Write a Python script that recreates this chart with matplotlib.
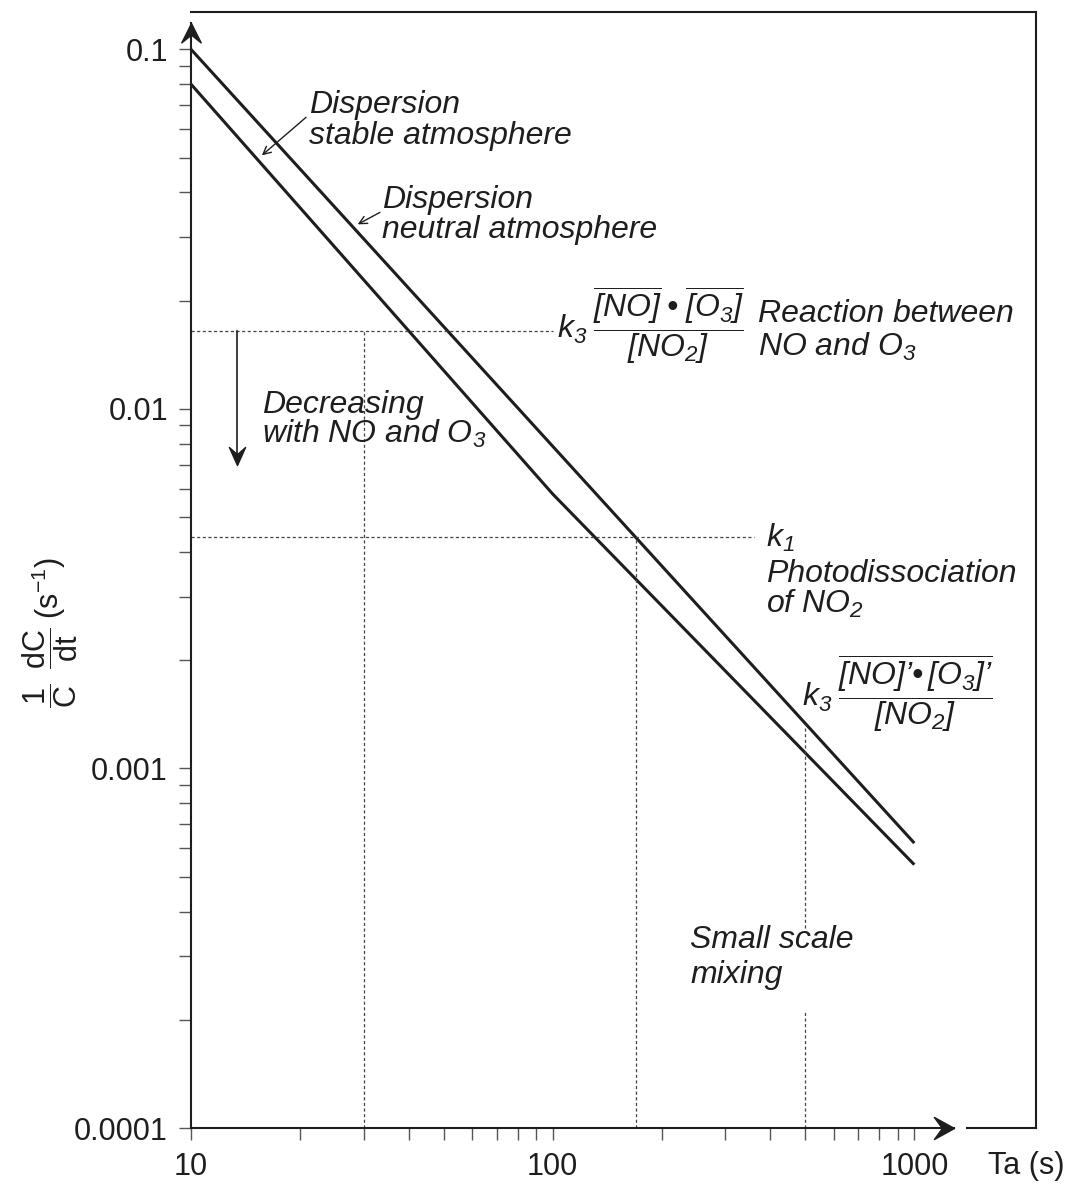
import numpy as np
import matplotlib
import matplotlib.pyplot as plt
from matplotlib.path import Path
from matplotlib.ticker import FixedLocator, NullFormatter

plt.rcParams['font.family'] = ['Liberation Sans', 'DejaVu Sans']
plt.rcParams['mathtext.fontset'] = 'custom'
plt.rcParams['mathtext.rm'] = 'Liberation Sans:italic'
plt.rcParams['mathtext.it'] = 'Liberation Sans:italic'
plt.rcParams['mathtext.sf'] = 'Liberation Sans'

# %% data
ta_neutral = [10, 1000]
rate_neutral = [0.1, 0.00062]
ta_stable = [10, 100, 1000]
rate_stable = [0.08, 0.0058, 0.00054]

k3_level = 0.0165      # k3 [NO][O3]/[NO2]
k3_ta = 30
k1_level = 0.0044      # k1 photodissociation
k1_ta = 170
mix_ta = 500           # small scale mixing
mix_top = 0.00133
mix_gap = (0.00036, 0.00021)

x_major = [10, 100, 1000]
x_minor = [20, 30, 40, 50, 60, 70, 80, 90, 200, 300, 400, 500, 600, 700, 800, 900]
y_major = [0.0001, 0.001, 0.01, 0.1]
y_major_lbl = ['0.0001', '0.001', '0.01', '0.1']

W, H = 1070, 1191
INK = '#1e1e1e'
GRID = '#444444'

fig = plt.figure(figsize=(W / 100, H / 100), dpi=100)
ax = fig.add_axes([191 / W, 1 - 1128 / H, (1036 - 191) / W, (1128 - 12) / H])
ax.set_xscale('log')
ax.set_yscale('log')
ax.set_xlim(10, 2170)
ax.set_ylim(0.0001, 0.127)

# curves
ax.plot(ta_neutral, rate_neutral, color=INK, lw=2.2, solid_capstyle='butt')
ax.plot(ta_stable, rate_stable, color=INK, lw=2.2, solid_capstyle='butt')

# reference dashed lines
dash = dict(color=GRID, lw=0.9, ls=(0, (2.5, 2)))
ax.plot([10, 100], [k3_level, k3_level], **dash)
ax.plot([k3_ta, k3_ta], [0.0001, k3_level], **dash)
ax.plot([10, 360], [k1_level, k1_level], **dash)
ax.plot([k1_ta, k1_ta], [0.0001, k1_level], **dash)
ax.plot([mix_ta, mix_ta], [mix_gap[0], mix_top], **dash)
ax.plot([mix_ta, mix_ta], [0.0001, mix_gap[1]], **dash)

# axes with arrow heads
for s in ['left', 'bottom']:
    ax.spines[s].set_visible(False)
for s in ['top', 'right']:
    ax.spines[s].set_linewidth(1.5)
    ax.spines[s].set_color(INK)
ax.plot([10, 10], [0.0001, 0.118], color=INK, lw=1.5, clip_on=False)
ax.plot([10, 1288], [0.0001, 0.0001], color=INK, lw=1.5, clip_on=False)
ax.plot([1400, 2170], [0.0001, 0.0001], color=INK, lw=1.5, clip_on=False)
codes = [Path.MOVETO, Path.LINETO, Path.LINETO, Path.LINETO, Path.CLOSEPOLY]
chev_up = Path([(0, 0), (0.5, -1), (0, -0.6), (-0.5, -1), (0, 0)], codes)
chev_down = Path([(0, 0), (0.45, 1), (0, 0.6), (-0.45, 1), (0, 0)], codes)
chev_right = Path([(0, 0), (-1, 0.55), (-0.6, 0), (-1, -0.55), (0, 0)], codes)
ax.plot([10], [0.118], marker=chev_up, ms=28, color=INK, ls='none', clip_on=False)
ax.plot([1288], [0.0001], marker=chev_right, ms=29, color=INK, ls='none', clip_on=False)

# ticks
ax.xaxis.set_major_locator(FixedLocator(x_major))
ax.xaxis.set_minor_locator(FixedLocator(x_minor))
ax.set_xticklabels([str(v) for v in x_major])
ax.xaxis.set_minor_formatter(NullFormatter())
ax.set_yticks(y_major)
ax.set_yticklabels(y_major_lbl)
ax.yaxis.set_minor_formatter(NullFormatter())
ax.tick_params(which='both', direction='out', length=8.6, width=1.0, color='#555555',
               labelsize=22, labelcolor=INK)
ax.tick_params(axis='y', which='both', pad=8)
ax.tick_params(axis='x', which='both', pad=9)

# arrows
ap = dict(arrowstyle='->', lw=1.0, color=INK, shrinkA=0, shrinkB=0, mutation_scale=14)
ax.annotate('', xy=(15.7, 0.0507), xytext=(20.8, 0.0647), arrowprops=ap)
ax.annotate('', xy=(28.9, 0.0326), xytext=(33.3, 0.0352), arrowprops=ap)
ax.plot([13.4, 13.4], [k3_level, 0.0071], color=INK, lw=1.2)
ax.plot([13.4], [0.0070], marker=chev_down, ms=26, color=INK, ls='none')


def put(x, y, s, **kw):
    opts = dict(fontsize=23, style='italic', color=INK, ha='left', va='baseline')
    opts.update(kw)
    fig.text(x / W, 1 - y / H, s, **opts)


put(309, 113, 'Dispersion')
put(309, 144, 'stable atmosphere')
put(382, 208, 'Dispersion')
put(382, 238, 'neutral atmosphere')
put(758, 322, 'Reaction between')
put(758, 356, 'NO and O$_3$')
put(262, 413, 'Decreasing')
put(262, 443, 'with NO and O$_3$')
put(766, 547, '$k_1$')
put(766, 582, 'Photodissociation')
put(766, 613, 'of NO$_2$')
put(690, 948, 'Small scale')
put(690, 983, 'mixing')

put(557, 338, r'$k_3\;\dfrac{\overline{[NO]}\;•\;\overline{[O_3]}}{[NO_2]}$')
put(802, 706, r'$k_3\;\dfrac{\overline{[NO]’•\,[O_3]’}}{[NO_2]}$')

fig.text(50 / W, 1 - 632 / H,
         r'$\dfrac{\mathsf{1}}{\mathsf{C}}\;\;\dfrac{\mathsf{dC}}{\mathsf{dt}}\;\mathsf{(s^{-1})}$',
         rotation=90, fontsize=22, color=INK, ha='center', va='center')
fig.text(1065 / W, 1 - 1166 / H, 'Ta (s)', fontsize=22, color=INK, ha='right', va='center')

fig.savefig('out.png', dpi=100)
